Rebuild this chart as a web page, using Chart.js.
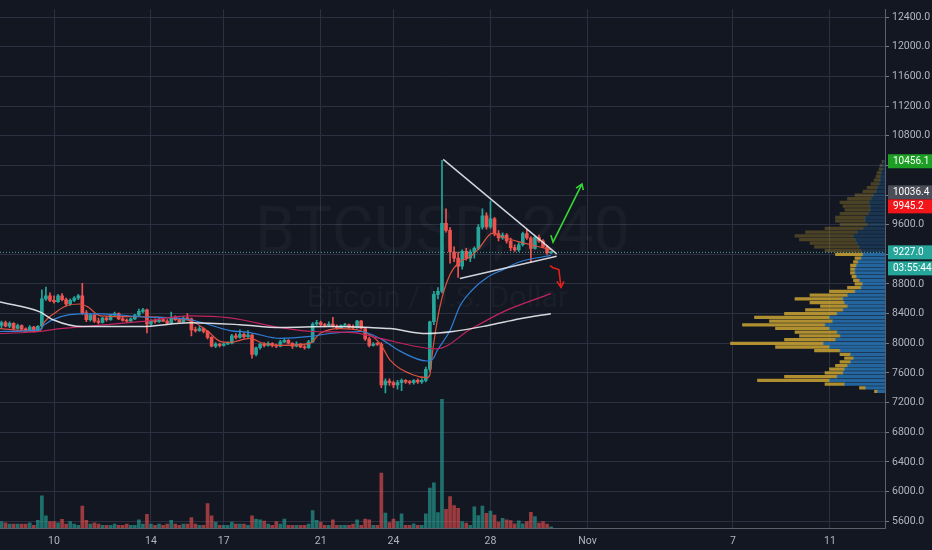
<!DOCTYPE html>
<html>
<head>
<meta charset="utf-8">
<script src="https://cdn.jsdelivr.net/npm/chart.js@4.4.0/dist/chart.umd.min.js"></script>
<style>
  html, body { margin: 0; padding: 0; background: #131722; }
  #wrap { width: 932px; height: 550px; }
</style>
</head>
<body>
<div id="wrap"><canvas id="chart" width="932" height="550"></canvas></div>
<script>
// BTCUSD 4h candles, Oct 7 20:00 -> Oct 30 12:00
const candleStart = Date.UTC(2019, 9, 7, 20);
const candleHours = 4;

const opens = [8240,8280,8230,8270,8200,8240,8190,8180,8220,8170, 8230,8600,8640,8580,8560,8640,8590,8530,8580,8610,
  8640,8410,8320,8380,8300,8280,8340,8320,8380,8400, 8330,8310,8300,8330,8380,8430,8450,8260,8310,8290,
  8320,8300,8270,8350,8320,8290,8340,8330,8180,8170, 8200,8160,8080,7960,7990,7970,7990,8000,8100,8080,
  8120,8090,8110,7850,7940,7990,7970,8000,7970,7960, 8020,8040,8000,7960,7990,7950,7940,8020,8260,8280,
  8250,8240,8260,8230,8210,8240,8250,8220,8210,8300, 8200,8060,7970,7990,7985,7440,7490,7470,7440,7470,
  7500,7480,7470,7500,7480,7500,7650,8290,8660,8700, 9620,9524,9232,9150,9040,9240,9150,9230,9280,9565,
  9720,9570,9680,9480,9420,9460,9380,9290,9260,9330, 9480,9420,9280,9430,9380,9300,9220];
const highs = [8300,8300,8290,8280,8260,8250,8210,8240,8230,8240, 8720,8760,8680,8640,8660,8670,8610,8600,8630,8660,
  8810,8440,8400,8390,8340,8350,8360,8390,8420,8410, 8350,8330,8340,8390,8460,8470,8460,8320,8330,8340,
  8340,8320,8420,8370,8340,8360,8400,8340,8220,8230, 8210,8170,8090,8010,8000,8010,8020,8120,8130,8180,
  8140,8170,8120,7950,8000,8010,8020,8010,7990,8040, 8060,8050,8010,8020,8000,7970,8040,8280,8310,8300,
  8270,8290,8350,8250,8250,8270,8260,8250,8310,8310, 8210,8080,8010,8010,8010,7520,7520,7490,7500,7520,
  7510,7500,7510,7520,7520,7680,8300,8700,8750,10470, 9815,9560,9300,9230,9260,9280,9260,9300,9600,9815,
  9760,9920,9700,9520,9490,9480,9420,9330,9360,9500, 9540,9440,9450,9460,9400,9320,9240];
const lows = [8200,8220,8210,8180,8190,8170,8160,8170,8150,8160, 8200,8580,8560,8540,8550,8570,8500,8510,8560,8590,
  8390,8290,8300,8280,8260,8270,8300,8310,8360,8320, 8300,8280,8290,8320,8370,8410,8140,8240,8270,8280,
  8290,8250,8260,8310,8280,8280,8320,8100,8150,8160, 8140,8060,7950,7940,7950,7960,7980,7990,8060,8070,
  8070,8080,7800,7830,7920,7950,7960,7950,7940,7950, 8010,7990,7930,7950,7940,7920,7930,8010,8240,8230,
  8220,8230,8220,8190,8200,8230,8200,8190,8200,8190, 8040,7950,7960,7970,7400,7330,7430,7400,7380,7360,
  7460,7450,7450,7460,7460,7480,7620,8250,8600,8680, 9500,9080,9100,8890,9000,9120,9100,9150,9260,9540,
  9540,9550,9450,9380,9400,9350,9250,9240,9240,9310, 9400,9090,9270,9360,9290,9200,9210];
const closes = [8280,8230,8270,8200,8240,8190,8180,8220,8170,8230, 8600,8640,8580,8560,8640,8590,8530,8580,8610,8640,
  8410,8320,8380,8300,8280,8340,8320,8380,8400,8330, 8310,8300,8330,8380,8430,8450,8260,8310,8290,8320,
  8300,8270,8350,8320,8290,8340,8330,8180,8170,8200, 8160,8080,7960,7990,7970,7990,8000,8100,8080,8120,
  8090,8110,7850,7940,7990,7970,8000,7970,7960,8020, 8040,8000,7960,7990,7950,7940,8020,8260,8280,8250,
  8240,8260,8230,8210,8240,8250,8220,8210,8300,8200, 8060,7970,7990,7985,7440,7490,7470,7440,7470,7500,
  7480,7470,7500,7480,7500,7650,8290,8660,8700,9620, 9524,9232,9150,9040,9240,9150,9230,9280,9565,9720,
  9570,9680,9480,9420,9460,9380,9290,9260,9330,9480, 9420,9280,9430,9380,9300,9220,9227];
const volumes = [5,4,3,3,3,3,3,4,2,6, 25,9.4,5,5,4,6.7,3,5,3,2, 17,6,3,4,3,2,2,2,3,2, 2,3,2,2,6.4,3,10.7,3,2,3,
  2,3,6,3,2,3,3,8,3,2, 2,19,9.4,4.6,2,2,2,4.6,3,3, 3,2,9.4,7,6.4,5.3,3,2,5,3, 7,2,2,2,2,2,3,13.5,6,4.6,
  2,2,6.4,2,2,2,2,3,6.4,2, 7,6.4,2,2,42.7,11.5,4.3,7,5,11, 2,2,3.3,2,2,11,31,35,12,100,
  14.5,24.5,17.5,15.3,5,3.8,2,16.5,9.7,17, 11.4,13.2,10,4.6,7.6,6.4,5.8,3.3,5.6,3.3, 5,12.2,8.9,3.8,5,3,1];

// moving averages: [day of October, price]
const maFast = [[7.77,8198],[9.42,8159],[9.55,8260],[10.12,8430],[10.54,8510],[11.07,8530],[11.4,8490],[11.9,8371],
  [13.55,8358],[15.61,8304],[16.31,8172],[16.85,8026],[17.26,8013],[18.08,8066],[18.62,8000],[19.32,7973],[20.56,8000],
  [20.97,8132],[21.79,8198],[22.62,8172],[23.44,8000],[23.86,7774],[24.8,7576],[25.38,7536],[25.5,7576],[25.63,7933],
  [25.92,8503],[26.33,8927],[26.74,9100],[27.16,9166],[27.57,9299],[28.06,9484],[28.52,9431],[29.22,9365],[30.04,9299],[30.49,9259]];
const maMid = [[7.77,8159],[9.42,8185],[9.55,8238],[11.07,8397],[12.0,8397],[13.55,8358],[15.61,8318],[17.26,8172],
  [18.08,8145],[19.32,8066],[20.56,8092],[21.38,8132],[22.62,8159],[23.44,8066],[24.27,7894],[25.38,7761],[25.63,7790],
  [25.79,7894],[26.33,8172],[26.74,8503],[27.28,8729],[27.86,8888],[28.52,8994],[29.22,9100],[30.49,9185]];
const maSlow = [[7.77,8132],[9.42,8159],[9.96,8185],[11.2,8225],[13.55,8291],[15.61,8371],[17.26,8344],[19.32,8212],
  [20.68,8159],[22.33,8145],[23.44,8066],[25.38,7933],[25.8,7925],[27.16,8185],[28.52,8424],[30.49,8670]];
const maLong = [[7.77,8556],[9.42,8424],[9.96,8318],[11.2,8225],[13.55,8225],[15.61,8278],[17.67,8251],[19.32,8212],
  [21.38,8225],[23.03,8212],[23.86,8198],[25.38,8132],[26.45,8159],[27.86,8238],[29.22,8331],[30.49,8400]];

// hand drawings
const triangleTop = [[26.05,10482],[30.73,9206]];
const triangleBottom = [[26.74,8874],[30.73,9175]];
const greenArrow = [[30.49,9458],[30.58,9365],[31.77,10147]];
const greenHead = [[31.53,10094],[31.77,10147],[31.83,10067]];
const redArrow = [[30.45,9047],[30.58,9020],[30.82,8994],[30.91,8755]];
const redHead = [[30.74,8835],[30.91,8755],[31.03,8835]];

// visible-range volume profile
const profilePrices = [10450,10400,10350,10300,10250,10200,10150,10100,10050,10000,9950,9900,9850,9800,9750,9700,9650,9600,
  9550,9500,9450,9400,9350,9300,9250,9200,9150,9100,9050,9000,8950,8900,8850,8800,8750,8700,8650,8600,8550,8500,8450,8400,
  8350,8300,8250,8200,8150,8100,8050,8000,7950,7900,7850,7800,7750,7700,7650,7600,7550,7500,7450,7400,7350];
const profileTotal = [2,3.3,4,5.3,6,7.3,9.3,12,14.7,20,25,30,28,26.7,30,33,33,30,
  40,53,60,57,50,47,40,33,20,21,23,23,23,22,21,20,25,37,50,60,50,43,53,67,
  87,77,95,73,60,57,67,103,73,47,30,27,30,33,37,40,67,85,40,17,7];
const profileUp = [1.3,2,2,2.7,3.3,3.3,4,5.3,6,8,9.3,10.7,10,10,11.3,13.3,13.3,12,
  14.7,18.7,21.3,20,18.7,17.3,16,14.7,16,18,19,20,20,19,17,15,16,20,25,28,27,25,28,32,
  37,35,40,37,32,30,33,41,37,30,23,21,23,25,27,28,32,37,27,13,5];
const valueAreaHigh = 9200;

const dayTicks = [10, 14, 17, 21, 24, 28, 32, 38, 42];
const dayLabels = ['10', '14', '17', '21', '24', '28', 'Nov', '7', '11'];
const priceTicks = [5600,6000,6400,6800,7200,7600,8000,8400,8800,9200,9600,10000,10400,10800,11200,11600,12000,12400];

const lastPrice = 9227.0;
const priceBadges = [10456.1, 10036.4, 9945.2, 9227.0];
const badgeColors = ['#1c9f24', '#4b4e58', '#f2161b', '#26a69a'];
const countdownText = '03:55:44';

// ---- build ----
const UP = '#26a69a', DOWN = '#ef5350';
const dayOf = ts => (ts - Date.UTC(2019, 9, 0)) / 86400000;
const times = opens.map((_, i) => dayOf(candleStart + i * candleHours * 3600000));
const isUp = opens.map((o, i) => closes[i] >= o);
const pts = arr => arr.map(p => ({ x: p[0], y: p[1] }));

function lineSet(data, color, width, order, extra) {
  return Object.assign({
    type: 'line', data: pts(data), borderColor: color, borderWidth: width,
    pointRadius: 0, fill: false, order: order, cubicInterpolationMode: 'monotone'
  }, extra || {});
}
const straight = { cubicInterpolationMode: 'default', tension: 0 };

const bgPlugin = {
  id: 'bg',
  beforeDraw(chart) {
    const { ctx } = chart;
    ctx.save();
    ctx.fillStyle = '#131722';
    ctx.fillRect(0, 0, chart.width, chart.height);
    ctx.restore();
  }
};

const watermark = {
  id: 'watermark',
  beforeDatasetsDraw(chart) {
    const { ctx, chartArea: a } = chart;
    const cx = (a.left + a.right) / 2;
    ctx.save();
    ctx.textAlign = 'center';
    ctx.textBaseline = 'middle';
    ctx.fillStyle = 'rgba(255,255,255,0.03)';
    ctx.font = '72px Roboto';
    const w1 = ctx.measureText('BTCUSD, 240').width;
    ctx.font = (72 * 375 / w1).toFixed(1) + 'px Roboto';
    ctx.fillText('BTCUSD, 240', cx, 236);
    ctx.font = '30px Roboto';
    const w2 = ctx.measureText('Bitcoin / U.S. Dollar').width;
    ctx.font = (30 * 262 / w2).toFixed(1) + 'px Roboto';
    ctx.fillText('Bitcoin / U.S. Dollar', cx - 5, 299);
    ctx.restore();
  }
};

const badges = {
  id: 'badges',
  afterDraw(chart) {
    const { ctx, chartArea: a } = chart;
    const y = chart.scales.y;
    const left = a.right + 3;
    const w = chart.width - left;
    const h = 14;
    let lastBottom = -Infinity;
    ctx.save();
    ctx.font = '10px Roboto';
    ctx.textBaseline = 'middle';
    priceBadges.forEach((p, i) => {
      let cy = y.getPixelForValue(p);
      if (cy - h / 2 < lastBottom) cy = lastBottom + h / 2;
      ctx.fillStyle = badgeColors[i];
      ctx.fillRect(left, cy - h / 2, w, h);
      ctx.fillStyle = '#ffffff';
      ctx.fillText(p.toFixed(1), left + 5, cy + 0.5);
      lastBottom = cy + h / 2;
      if (p === lastPrice) {
        ctx.fillStyle = badgeColors[i];
        ctx.fillRect(left, cy + h / 2 + 2, w, h);
        ctx.fillStyle = '#ffffff';
        ctx.fillText(countdownText, left + 5, cy + h + 2.5);
      }
    });
    ctx.restore();
  }
};

const gridColor = '#2c3040';
const tickFont = { family: 'Roboto', size: 10.5 };

new Chart(document.getElementById('chart'), {
  data: {
    datasets: [
      {
        type: 'bar', yAxisID: 'yv', order: 20, grouped: false, barThickness: 3,
        data: times.map((t, i) => ({ x: t, y: volumes[i] })),
        backgroundColor: isUp.map(u => u ? 'rgba(38,166,154,0.62)' : 'rgba(239,83,80,0.62)')
      },
      {
        type: 'bar', indexAxis: 'y', xAxisID: 'xp', yAxisID: 'y', order: 19, grouped: false, barThickness: 2.6,
        data: profilePrices.map((p, i) => ({ x: [0, profileUp[i]], y: p })),
        backgroundColor: profilePrices.map(p => p > valueAreaHigh ? 'rgba(41,121,190,0.3)' : 'rgba(41,121,190,0.8)')
      },
      {
        type: 'bar', indexAxis: 'y', xAxisID: 'xp', yAxisID: 'y', order: 19, grouped: false, barThickness: 2.6,
        data: profilePrices.map((p, i) => ({ x: [profileUp[i], profileTotal[i]], y: p })),
        backgroundColor: profilePrices.map(p => p > valueAreaHigh ? 'rgba(205,165,50,0.3)' : 'rgba(205,165,50,0.85)')
      },
      {
        type: 'bar', order: 6, grouped: false, barThickness: 1,
        data: times.map((t, i) => ({ x: t, y: [lows[i], highs[i]] })),
        backgroundColor: isUp.map(u => u ? UP : DOWN)
      },
      {
        type: 'bar', order: 5, grouped: false, barThickness: 3, minBarLength: 1,
        data: times.map((t, i) => ({ x: t, y: [opens[i], closes[i]] })),
        backgroundColor: isUp.map(u => u ? UP : DOWN)
      },
      lineSet(maLong, 'rgba(235,237,242,0.9)', 1.5, 3),
      lineSet(maSlow, '#c2245e', 1.2, 3),
      lineSet(maMid, '#2f7fd6', 1.2, 3),
      lineSet(maFast, '#dd5240', 1.2, 3),
      {
        type: 'line', order: 2, pointRadius: 0, borderWidth: 1, borderDash: [1, 2],
        borderColor: 'rgba(90,190,180,0.85)',
        data: [{ x: 7.773, y: lastPrice }, { x: 44.27, y: lastPrice }]
      },
      lineSet(triangleTop, 'rgba(230,232,238,0.9)', 1.5, 1, straight),
      lineSet(triangleBottom, 'rgba(230,232,238,0.9)', 1.5, 1, straight),
      lineSet(greenArrow, '#37d635', 1.6, 1, straight),
      lineSet(greenHead, '#37d635', 1.6, 1, straight),
      lineSet(redArrow, '#e3201c', 1.6, 1, straight),
      lineSet(redHead, '#e3201c', 1.6, 1, straight)
    ]
  },
  options: {
    responsive: false,
    animation: false,
    devicePixelRatio: 1,
    layout: { padding: 0 },
    plugins: { legend: { display: false }, tooltip: { enabled: false } },
    scales: {
      x: {
        type: 'linear', axis: 'x', position: 'bottom', min: 7.773, max: 44.27, offset: false,
        afterBuildTicks: axis => { axis.ticks = dayTicks.map(v => ({ value: v })); },
        afterFit: axis => { axis.height = 22; },
        grid: { color: gridColor, offset: false, drawTicks: false },
        border: { color: '#5d606b' },
        ticks: {
          color: '#b2b5be', font: tickFont, padding: 7, autoSkip: false, maxRotation: 0,
          callback: v => dayLabels[dayTicks.indexOf(v)]
        }
      },
      y: {
        type: 'linear', axis: 'y', position: 'right', min: 5508, max: 12506, offset: false,
        afterBuildTicks: axis => { axis.ticks = priceTicks.map(v => ({ value: v })); },
        afterFit: axis => { axis.width = 47; },
        grid: { color: gridColor, offset: false, tickLength: 4, tickColor: '#787b86' },
        border: { color: '#5d606b' },
        ticks: { color: '#b2b5be', font: tickFont, padding: 3, callback: v => v.toFixed(1) }
      },
      yv: { type: 'linear', axis: 'y', display: false, min: 0, max: 403, grid: { display: false } },
      xp: { type: 'linear', axis: 'x', display: false, min: 0, max: 590, reverse: true, grid: { display: false } }
    }
  },
  plugins: [bgPlugin, watermark, badges]
});
</script>
</body>
</html>
